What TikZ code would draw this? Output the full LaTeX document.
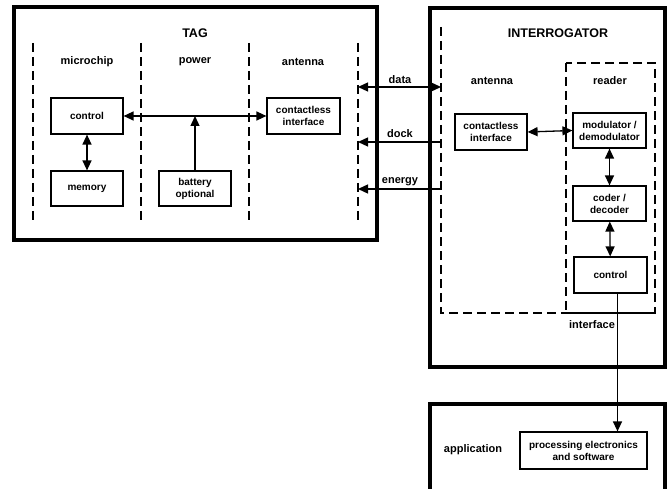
\documentclass[tikz,border=0pt]{standalone}
\usepackage{fontspec}
\setmainfont{Liberation Sans}
\usetikzlibrary{arrows.meta}
\begin{document}
\begin{tikzpicture}[x=1pt,y=-1pt,>={Triangle[length=10pt,width=9pt]}]
        \tikzstyle{block}=[draw,line width=1.2pt,align=center,font=\bfseries\fontsize{10}{12}\selectfont,inner sep=1pt]
        \tikzstyle{frame}=[draw,line width=3.2pt]
        \tikzstyle{part}=[draw,line width=1.3pt,dash pattern=on 9pt off 5pt]
        \tikzstyle{label}=[font=\bfseries\fontsize{11}{13}\selectfont]
        \tikzstyle{title}=[font=\bfseries\fontsize{12.5}{14}\selectfont]
        \tikzstyle{edge}=[draw,line width=1.3pt]
        \useasboundingbox (0,0) rectangle (669,489);
       % tag
       \begin{scope}
         \draw[frame] (14,7) rectangle (377,240);
         \foreach \x in {33,141,249,358}
           \draw[part] (\x,43) -- (\x,220);
         \node [title] (tag) at (195,33) {TAG};
         \node [label] (chip) at (87,62) {microchip};
         \node [label] (power) at (195,62) {power};
         \node [label] (antT) at (303,62) {antenna};
         \node [block,minimum width=72pt,minimum height=36pt] (ctrlT) at (87,116) {control};
         \node [block,minimum width=72pt,minimum height=35pt] (mem) at (87,188.5) {memory};
         \node [block,minimum width=72pt,minimum height=35pt] (bat) at (195,188.5) {battery\\optional};
         \node [block,minimum width=73pt,minimum height=36pt] (ciT) at (303.5,116) {contactless\\interface};
         \path[edge] (ctrlT) edge [<->] (mem);
         \path[edge] (ctrlT.east) edge [<->] (ciT.west);
         \path[edge] (bat.north) edge [->] (bat.north |- ciT.west);
        \end{scope}
       % interrogator
       \begin{scope}
         \draw[frame] (430,8) rectangle (665,367);
         \draw[part] (441,27) -- (441,313) -- (655,313);
         \draw[part] (566,63) rectangle (655,313);
         \node [title] (intg) at (558,33) {INTERROGATOR};
         \node [label] (antR) at (492,81) {antenna};
         \node [label] (reader) at (610,81) {reader};
         \node [block,minimum width=72pt,minimum height=36pt] (ciR) at (491,132) {contactless\\interface};
         \node [block,minimum width=73pt,minimum height=35pt] (mod) at (609.5,130.5) {modulator /\\demodulator};
         \node [block,minimum width=73pt,minimum height=35pt] (coder) at (609.5,203.5) {coder /\\decoder};
         \node [block,minimum width=73pt,minimum height=36pt] (ctrlR) at (610.5,275) {control};
         \node [label] (iface) at (592,325) {interface};
         \path[edge] (ciR.east) edge [<->] (mod.west);
         \path[edge] (mod) edge [<->] (coder);
         \path[edge] (coder) edge [<->] (ctrlR);
        \end{scope}
       % air link
         \coordinate (dataL) at (358,87);
         \coordinate (dataR) at (441,87);
         \coordinate (dockL) at (358,142);
         \coordinate (dockR) at (441,142);
         \coordinate (enL) at (358,189);
         \coordinate (enR) at (441,189);
         \node [label] (data) at (400,80) {data};
         \node [label] (dock) at (400,134) {dock};
         \node [label] (energy) at (400,182) {energy};
         \path[edge] (dataL) edge [<->] (dataR);
         \path[edge] (dockR) edge [->] (dockL);
         \path[edge] (enR) edge [->] (enL);
       % application
         \draw[frame] (430,495) -- (430,404) -- (665,404) -- (665,495);
         \node [label] (app) at (473,450) {application};
         \node [block,minimum width=127pt,minimum height=37pt] (proc) at (583.5,450.5) {processing electronics\\and software};
         \path[edge] ([xshift=7pt]ctrlR.south) edge [->] ([xshift=7pt]ctrlR.south |- proc.north);
      \end{tikzpicture}
\end{document}
